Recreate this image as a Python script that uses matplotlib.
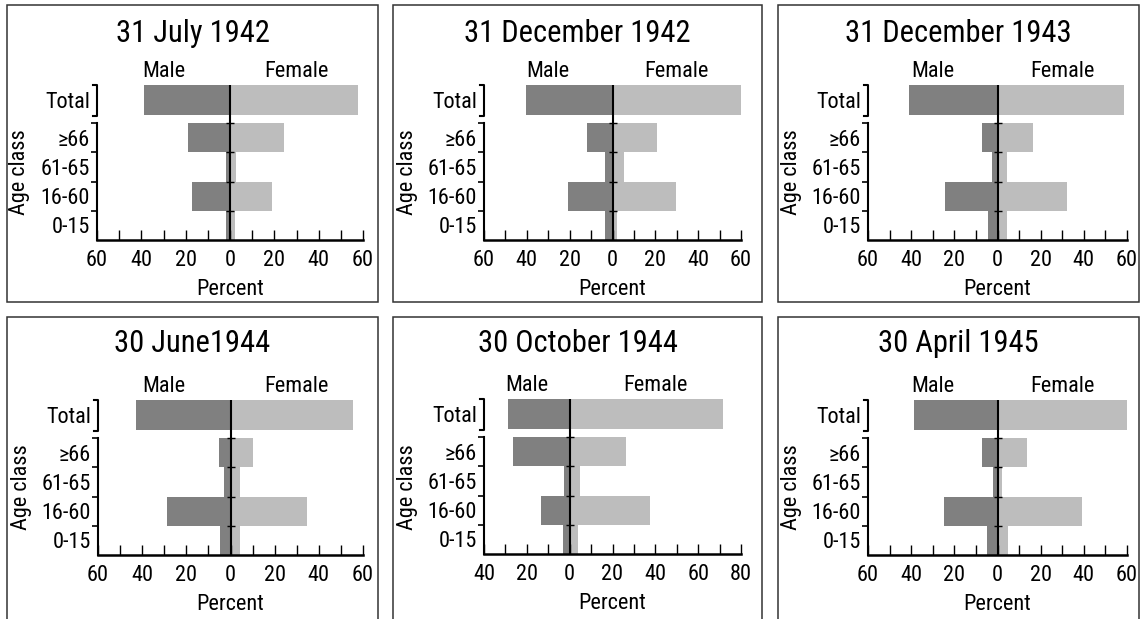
import matplotlib
matplotlib.use("Agg")
import matplotlib.pyplot as plt
import matplotlib.patches as mpatches
import matplotlib.transforms as mtransforms
from matplotlib import font_manager
from matplotlib.ticker import FuncFormatter, MultipleLocator

# pick a narrow sans font if one is installed
fonts = font_manager.fontManager.ttflist
narrow = None
for want in ["Liberation Sans Narrow", "Roboto Condensed", "Open Sans Condensed",
             "Noto Sans", "Roboto", "Open Sans", "DejaVu Sans"]:
    for f in fonts:
        if f.name == want and (("Narrow" in want or "Condensed" in want)
                               or str(f.stretch) in ("condensed", "semi-condensed", "extra-condensed", "75", "87")):
            narrow = (f.name, f.stretch)
            break
    if narrow:
        break

if narrow:
    plt.rcParams["font.family"] = [narrow[0], "DejaVu Sans"]
    plt.rcParams["font.stretch"] = narrow[1]
    LAB, TIT = 16, 22
else:
    plt.rcParams["font.family"] = ["Liberation Sans", "DejaVu Sans"]
    LAB, TIT = 14.5, 20

# data (percent)
titles = ["31 July 1942", "31 December 1942", "31 December 1943",
          "30 June1944", "30 October 1944", "30 April 1945"]
age_classes = ["0-15", "16-60", "61-65", "\u226566"]
male_total = [39, 40.5, 40.8, 42.6, 28.9, 38.9]
female_total = [57.6, 60, 58.5, 55.4, 71.7, 60.5]
# age classes in order 0-15, 16-60, 61-65, >=66
male_age = [
    [2.0, 17.0, 1.8, 19.0],
    [3.4, 21.0, 3.4, 12.0],
    [4.2, 24.3, 2.5, 7.2],
    [4.8, 28.6, 2.9, 5.2],
    [2.9, 13.3, 2.6, 26.4],
    [4.8, 24.9, 2.0, 7.2],
]
female_age = [
    [2.2, 19.0, 2.6, 24.3],
    [2.0, 29.8, 5.2, 21.0],
    [4.3, 32.4, 4.6, 16.5],
    [4.4, 34.8, 4.4, 10.4],
    [3.9, 37.6, 4.7, 26.3],
    [4.8, 39.2, 2.2, 13.7],
]
x_ranges = [(-60, 60), (-60, 60), (-60, 60), (-60, 60), (-40, 80), (-60, 60)]

MALE_C = "#808080"
FEMALE_C = "#bdbdbd"
W, H = 1140, 619

fig = plt.figure(figsize=(W / 100, H / 100), dpi=100)

# panel geometry in pixels: box (x0, y0, x1, y1), axes (left, right, bottom)
boxes = [(7, 5, 378, 302), (393, 5, 762, 302), (778, 5, 1139, 302),
         (7, 317, 378, 640), (393, 317, 762, 640), (778, 317, 1139, 640)]
axes_px = [(97, 363, 240), (484, 741, 240), (868, 1127, 240),
           (98, 363, 555), (484, 741, 554), (868, 1127, 555)]
AX_H = 155
Y_TOP = 5.3
TOT_LO, TOT_HI = 4.27, 5.3

for i in range(6):
    bx0, by0, bx1, by1 = boxes[i]
    fig.add_artist(mpatches.Rectangle((bx0 / W, 1 - by1 / H), (bx1 - bx0) / W,
                                      (by1 - by0) / H, transform=fig.transFigure,
                                      fill=False, edgecolor="#333333", lw=1.1))
    l, r, b = axes_px[i]
    ax = fig.add_axes([l / W, 1 - b / H, (r - l) / W, AX_H / H])
    xmin, xmax = x_ranges[i]

    ypos = [0.5, 1.5, 2.5, 3.5]
    ax.barh(ypos, [-m for m in male_age[i]], height=1, color=MALE_C, lw=0)
    ax.barh(ypos, female_age[i], height=1, color=FEMALE_C, lw=0)
    ax.barh((TOT_LO + TOT_HI) / 2, -male_total[i], height=TOT_HI - TOT_LO, color=MALE_C, lw=0)
    ax.barh((TOT_LO + TOT_HI) / 2, female_total[i], height=TOT_HI - TOT_LO, color=FEMALE_C, lw=0)

    # centre line with small ticks at class boundaries
    ax.plot([0, 0], [0, Y_TOP], color="black", lw=1.5, zorder=3)
    ax.plot([0, 0, 0, 0], [1, 2, 3, 4], marker="_", ms=6, mew=1.0, ls="none",
            color="black", zorder=3)

    ax.set_xlim(xmin, xmax)
    ax.set_ylim(0, Y_TOP)
    for s in ["top", "right"]:
        ax.spines[s].set_visible(False)
    ax.spines["left"].set_bounds(0, 4)
    ax.spines["left"].set_linewidth(1.5)
    ax.spines["bottom"].set_linewidth(1.8)

    ax.xaxis.set_major_locator(MultipleLocator(20))
    ax.xaxis.set_minor_locator(MultipleLocator(10))
    ax.xaxis.set_major_formatter(FuncFormatter(lambda v, p: f"{abs(v):.0f}"))
    ax.tick_params(axis="x", which="both", direction="in", length=7, width=1.0,
                   labelsize=LAB, pad=7)
    ax.set_xlabel("Percent", fontsize=LAB, labelpad=6)

    ax.set_yticks(ypos + [(TOT_LO + TOT_HI) / 2])
    ax.set_yticklabels(age_classes + ["Total"])
    ax.tick_params(axis="y", which="major", length=0, labelsize=LAB, pad=5)
    ax.set_yticks([1, 2, 3, 4], minor=True)
    ax.tick_params(axis="y", which="minor", direction="out", length=4, width=1.2)

    # bracket for the Total row
    tr = mtransforms.blended_transform_factory(ax.transAxes, ax.transData)
    sx = 4 / (r - l)
    ax.plot([-sx, 0, 0, -sx], [TOT_LO - 0.02, TOT_LO - 0.02, TOT_HI, TOT_HI],
            transform=tr, color="black", lw=1.5, clip_on=False)

    tx = mtransforms.blended_transform_factory(ax.transData, ax.transAxes)
    ax.text(xmin / 2, 1.09, "Male", transform=tx, ha="center", va="center", fontsize=LAB)
    ax.text(xmax / 2, 1.09, "Female", transform=tx, ha="center", va="center", fontsize=LAB)
    ax.text(-77 / (r - l), (b - 172 - (0 if by0 < 100 else 315)) / AX_H, "Age class",
            rotation=90, transform=ax.transAxes, ha="center", va="center", fontsize=LAB)

    ty = 33 if by0 < 100 else 343
    fig.text((bx0 + min(bx1, 1140)) / 2 / W, 1 - ty / H,
             titles[i], ha="center", va="center", fontsize=TIT)

fig.savefig("out.png", dpi=100, facecolor="white")
